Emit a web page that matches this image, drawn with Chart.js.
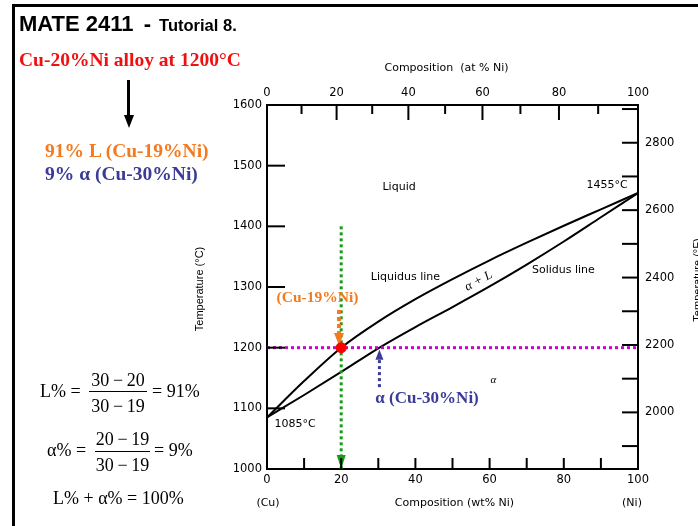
<!DOCTYPE html>
<html>
<head>
<meta charset="utf-8">
<script src="https://cdn.jsdelivr.net/npm/chart.js@4.4.1/dist/chart.umd.min.js"></script>
<style>
  html, body { margin:0; padding:0; background:#fff; width:698px; height:526px; overflow:hidden; }
  #wrap { position:relative; width:698px; height:526px; }
  canvas { position:absolute; left:0; top:0; }
  .t { position:absolute; white-space:pre; }
  .serif { font-family:"Liberation Serif","Times New Roman",serif; }
  .sans { font-family:"Liberation Sans",Arial,sans-serif; }
  .frame { position:absolute; left:12px; top:4px; width:700px; height:540px; border-left:3px solid #000; border-top:3px solid #000; }
</style>
</head>
<body>
<div id="wrap">
  <canvas id="c" width="698" height="526"></canvas>
  <div class="frame"></div>
  <div class="t sans" style="left:19px; top:13.4px; font-size:22px; line-height:22px; font-weight:bold; color:#000;">MATE 2411 <span style="margin-left:4px;">-</span> <span style="font-size:16.5px; margin-left:2px;">Tutorial 8.</span></div>
  <div class="t serif" style="left:19px; top:50.4px; font-size:19.5px; line-height:19.5px; font-weight:bold; color:#f01010;">Cu-20%Ni alloy at 1200°C</div>
  <div style="position:absolute; left:127px; top:80px; width:3px; height:36px; background:#000;"></div>
  <div style="position:absolute; left:123.5px; top:115px; width:0; height:0; border-left:5px solid transparent; border-right:5px solid transparent; border-top:13px solid #000;"></div>
  <div class="t serif" style="left:45px; top:140.7px; font-size:19.5px; line-height:19.5px; font-weight:bold; color:#f47a20;">91% L (Cu-19%Ni)</div>
  <div class="t serif" style="left:45px; top:163.7px; font-size:19.5px; line-height:19.5px; font-weight:bold; color:#3b3b98;">9% α (Cu-30%Ni)</div>

  <!-- formula 1 -->
  <div class="t serif" style="left:40px; top:381.9px; font-size:18px; line-height:18px;">L% =</div>
  <div class="t serif" style="left:78px; width:80px; text-align:center; top:370.9px; font-size:18px; line-height:18px;">30&#8201;−&#8201;20</div>
  <div style="position:absolute; left:89px; top:391px; width:58px; height:1px; background:#000;"></div>
  <div class="t serif" style="left:78px; width:80px; text-align:center; top:396.9px; font-size:18px; line-height:18px;">30&#8201;−&#8201;19</div>
  <div class="t serif" style="left:152px; top:381.9px; font-size:18px; line-height:18px;">= 91%</div>

  <!-- formula 2 -->
  <div class="t serif" style="left:47px; top:440.9px; font-size:18px; line-height:18px;">α% =</div>
  <div class="t serif" style="left:82.5px; width:80px; text-align:center; top:429.9px; font-size:18px; line-height:18px;">20&#8201;−&#8201;19</div>
  <div style="position:absolute; left:95px; top:451px; width:55px; height:1px; background:#000;"></div>
  <div class="t serif" style="left:82.5px; width:80px; text-align:center; top:456.4px; font-size:18px; line-height:18px;">30&#8201;−&#8201;19</div>
  <div class="t serif" style="left:154px; top:440.9px; font-size:18px; line-height:18px;">= 9%</div>

  <!-- formula 3 -->
  <div class="t serif" style="left:53px; top:488.9px; font-size:18px; line-height:18px;">L% + α% = 100%</div>
</div>
<script>
// ---------- data ----------
const wtPct      = [0, 10, 20, 30, 40, 50, 60, 70, 80, 90, 100];
const liquidusC  = [1085, 1145, 1200, 1243, 1280, 1313, 1344, 1373, 1401, 1428, 1455];
const solidusC   = [1085, 1122, 1160, 1199, 1234, 1267, 1301, 1337, 1375, 1415, 1455];
const tempTicksC = [1000, 1100, 1200, 1300, 1400, 1500, 1600];
const tempTicksF = [1900, 2000, 2100, 2200, 2300, 2400, 2500, 2600, 2700, 2800, 2900];
const atPctTicks = [0, 10, 20, 30, 40, 50, 60, 70, 80, 90, 100];
const wtTicks    = [0, 10, 20, 30, 40, 50, 60, 70, 80, 90, 100];
const alloyWt = 20;       // Cu-20%Ni
const alloyT  = 1200;     // 1200 C
const liquidWt = 19;      // C_L
const alphaWt  = 30;      // C_alpha

const M_NI = 58.69, M_CU = 63.55;
const atToWt = a => 100 * a * M_NI / (a * M_NI + (100 - a) * M_CU);
const cToF = c => c * 9 / 5 + 32;

const pts = (xs, ys) => xs.map((x, i) => ({x, y: ys[i]}));

const TICK_FONT = {family: 'DejaVu Sans', size: 11.5};

// ---------- custom drawing ----------
const diagram = {
  id: 'diagram',
  afterDatasetsDraw(chart) {
    const {ctx, scales} = chart;
    const X = v => scales.x.getPixelForValue(v);
    const Y = v => scales.y.getPixelForValue(v);
    const dotted = (x1, y1, x2, y2, color, w, dash) => {
      ctx.save(); ctx.strokeStyle = color; ctx.lineWidth = w; ctx.setLineDash(dash);
      ctx.beginPath(); ctx.moveTo(x1, y1); ctx.lineTo(x2, y2); ctx.stroke(); ctx.restore();
    };
    const tri = (x, tipY, baseY, hw, color) => {
      ctx.save(); ctx.fillStyle = color; ctx.beginPath();
      ctx.moveTo(x, tipY); ctx.lineTo(x - hw, baseY); ctx.lineTo(x + hw, baseY); ctx.closePath(); ctx.fill(); ctx.restore();
    };
    tri(X(alloyWt), Y(1000), Y(1000) - 14, 4.5, '#1a9a1a');
    const xo = X(liquidWt + 0.4);
    dotted(xo, Y(1262), xo, Y(1224), '#f47a20', 4, [4, 3]);
    tri(xo, Y(1204), Y(1224), 5, '#f47a20');
    const xb = X(alphaWt + 0.3);
    dotted(xb, Y(1135), xb, Y(1180), '#3b3b98', 3, [3, 3]);
    tri(xb, Y(1197), Y(1180), 4, '#3b3b98');
    ctx.save(); ctx.fillStyle = '#ff0000'; ctx.beginPath();
    ctx.arc(X(alloyWt), Y(alloyT), 5.5, 0, Math.PI * 2); ctx.fill(); ctx.restore();
  },
  afterDraw(chart) {
    const {ctx, chartArea: a, scales} = chart;
    const X = v => scales.x.getPixelForValue(v);
    const Y = v => scales.y.getPixelForValue(v);
    ctx.save();
    ctx.strokeStyle = '#000'; ctx.lineWidth = 2;
    const seg = (x1, y1, x2, y2) => { ctx.beginPath(); ctx.moveTo(x1, y1); ctx.lineTo(x2, y2); ctx.stroke(); };
    scales.y.ticks.forEach(t => { const y = scales.y.getPixelForValue(t.value); seg(a.left, y, a.left + 18, y); });
    scales.y2.ticks.forEach(t => { const y = scales.y2.getPixelForValue(t.value); seg(a.right - 16, y, a.right, y); });
    scales.x2.ticks.forEach((t, i) => { const x = scales.x2.getPixelForValue(t.value); seg(x, a.top, x, a.top + (atPctTicks[i] % 20 === 0 ? 15 : 9)); });
    scales.x.ticks.forEach(t => { const x = scales.x.getPixelForValue(t.value); seg(x, a.bottom - 11, x, a.bottom); });
    ctx.restore();

    ctx.save();
    ctx.fillStyle = '#000';
    const txt = (s, x, y, font, align, base) => { ctx.font = font; ctx.textAlign = align || 'center'; ctx.textBaseline = base || 'middle'; ctx.fillText(s, x, y); };
    const F = '11px "DejaVu Sans"';
    txt('Composition  (at % Ni)', (a.left + a.right) / 2 - 6, 68, F);
    txt('Composition (wt% Ni)', (a.left + a.right) / 2 + 2, 503, F);
    txt('(Cu)', a.left + 1, 503, F);
    txt('(Ni)', a.right - 6, 503, F);
    txt('Liquid', X(35.6), Y(1465), F);
    txt('1455°C', X(97.2), Y(1468), F, 'right');
    txt('Liquidus line', X(37.3), Y(1316), F);
    txt('Solidus line', X(79.9), Y(1328), F);
    txt('1085°C', X(2.0), Y(1074), F, 'left');
    ctx.save(); ctx.translate(X(57.0), Y(1310)); ctx.rotate(-28.6 * Math.PI / 180);
    txt('α + L', 0, 0, 'italic 13px "Liberation Serif"'); ctx.restore();
    txt('α', X(61.0), Y(1146), 'italic 11px "Liberation Serif"');
    ctx.save(); ctx.translate(203, 289); ctx.rotate(-Math.PI / 2);
    txt('Temperature (°C)', 0, 0, '11px "Liberation Sans Narrow", "Liberation Sans"', 'center', 'alphabetic'); ctx.restore();
    ctx.save(); ctx.translate(701, 280); ctx.rotate(-Math.PI / 2);
    txt('Temperature (°F)', 0, 0, '11px "Liberation Sans Narrow", "Liberation Sans"', 'center', 'alphabetic'); ctx.restore();
    ctx.fillStyle = '#f47a20';
    txt('(Cu-19%Ni)', X(13.6), Y(1275), 'bold 15.5px "Liberation Serif"', 'center', 'alphabetic');
    ctx.fillStyle = '#3b3b98';
    txt('α (Cu-30%Ni)', X(29.2), Y(1109), 'bold 17px "Liberation Serif"', 'left', 'alphabetic');
    ctx.restore();
  }
};

const axisBorder = {display: true, color: '#000', width: 2};
const gridOpts = {display: true, drawOnChartArea: false, drawTicks: false};

new Chart(document.getElementById('c'), {
  type: 'scatter',
  data: {
    datasets: [
      {label: 'tie line', data: [{x: 0, y: alloyT}, {x: 100, y: alloyT}], showLine: true, borderColor: '#d000d0', borderWidth: 3, borderDash: [3, 3], pointRadius: 0},
      {label: 'alloy', data: [{x: alloyWt, y: 1400}, {x: alloyWt, y: 1000}], showLine: true, borderColor: '#1a9a1a', borderWidth: 3, borderDash: [3, 3], pointRadius: 0},
      {label: 'liquidus', data: pts(wtPct, liquidusC), showLine: true, borderColor: '#000', borderWidth: 2, pointRadius: 0, cubicInterpolationMode: 'monotone'},
      {label: 'solidus', data: pts(wtPct, solidusC), showLine: true, borderColor: '#000', borderWidth: 2, pointRadius: 0, cubicInterpolationMode: 'monotone'}
    ]
  },
  options: {
    responsive: false, animation: false, devicePixelRatio: 1,
    layout: {padding: 0},
    plugins: {legend: {display: false}, tooltip: {enabled: false}},
    scales: {
      x: {
        type: 'linear', position: 'bottom', min: 0, max: 100,
        afterBuildTicks: s => { s.ticks = wtTicks.map(v => ({value: v})); },
        ticks: {autoSkip: false, maxRotation: 0, padding: 4, color: '#000', font: TICK_FONT, callback: v => (v % 20 === 0 ? String(v) : '')},
        grid: gridOpts, border: axisBorder,
        afterFit: s => { s.height = 57; }
      },
      x2: {
        type: 'linear', position: 'top', min: 0, max: 100,
        afterBuildTicks: s => { s.ticks = atPctTicks.map(v => ({value: atToWt(v)})); },
        ticks: {autoSkip: false, maxRotation: 0, padding: 5, color: '#000', font: TICK_FONT, callback: (v, i) => (atPctTicks[i] % 20 === 0 ? String(atPctTicks[i]) : '')},
        grid: gridOpts, border: axisBorder,
        afterFit: s => { s.height = 105; }
      },
      y: {
        type: 'linear', position: 'left', min: 1000, max: 1600,
        afterBuildTicks: s => { s.ticks = tempTicksC.map(v => ({value: v})); },
        ticks: {autoSkip: false, padding: 5, color: '#000', font: TICK_FONT, callback: v => String(v)},
        grid: gridOpts, border: axisBorder,
        afterFit: s => { s.width = 267; }
      },
      y2: {
        type: 'linear', position: 'right', min: cToF(1000), max: cToF(1600),
        afterBuildTicks: s => { s.ticks = tempTicksF.map(v => ({value: v})); },
        ticks: {autoSkip: false, padding: 7, color: '#000', font: TICK_FONT, callback: v => (v % 200 === 0 ? String(v) : '')},
        grid: gridOpts, border: axisBorder,
        afterFit: s => { s.width = 60; }
      }
    }
  },
  plugins: [diagram]
});
</script>
</body>
</html>
